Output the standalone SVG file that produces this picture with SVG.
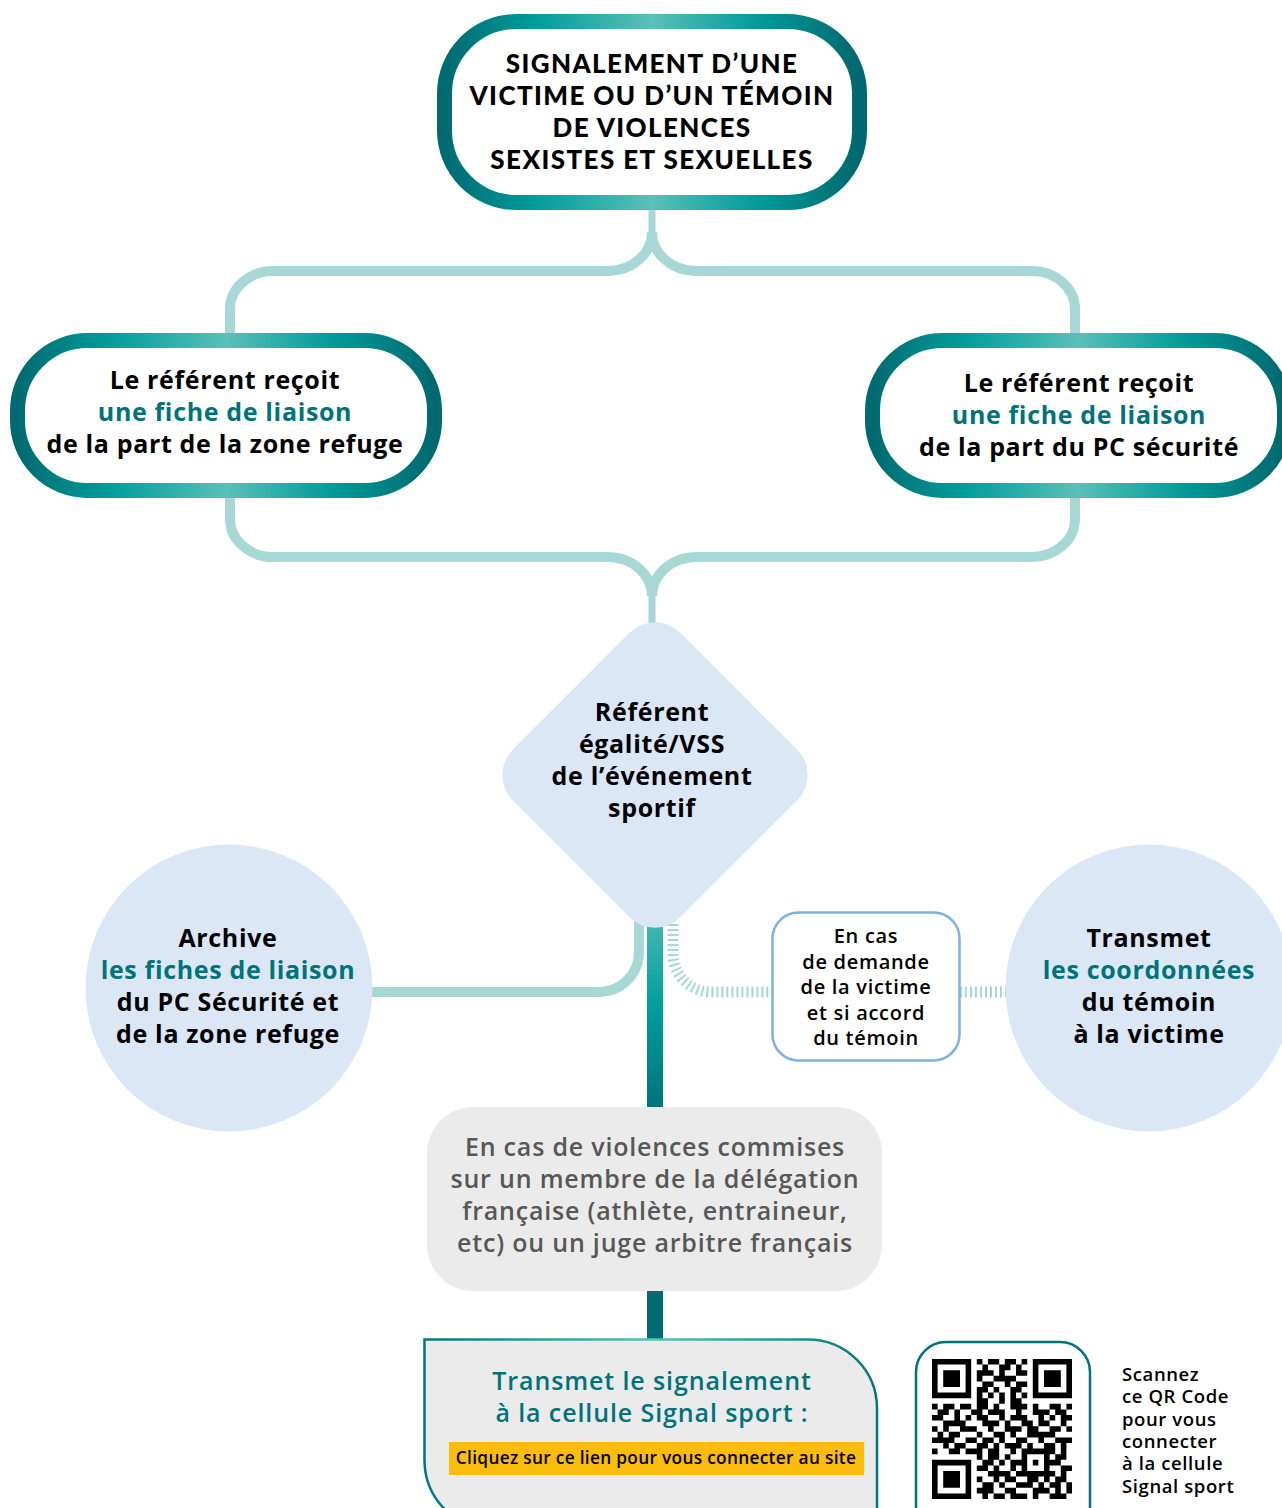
<svg xmlns="http://www.w3.org/2000/svg" width="1282" height="1508" viewBox="0 0 1282 1508">
<defs>
<linearGradient id="gBorder" x1="0" y1="0" x2="1" y2="0">
<stop offset="0" stop-color="#006A70"/>
<stop offset="0.22" stop-color="#009D9B"/>
<stop offset="0.5" stop-color="#5AC0B8"/>
<stop offset="0.76" stop-color="#009A99"/>
<stop offset="1" stop-color="#00686E"/>
</linearGradient>
<linearGradient id="gBar" x1="0" y1="0" x2="0" y2="1">
<stop offset="0" stop-color="#4CB8B2"/>
<stop offset="0.45" stop-color="#00A09D"/>
<stop offset="1" stop-color="#00727A"/>
</linearGradient>
<linearGradient id="gBottom" gradientUnits="userSpaceOnUse" x1="424" y1="0" x2="878" y2="0">
<stop offset="0" stop-color="#00777C"/>
<stop offset="0.5" stop-color="#5AC0B8"/>
<stop offset="1" stop-color="#00777C"/>
</linearGradient>
<style>
.lt{fill:none;stroke:#A7D8D5;stroke-width:10}
.hatch{fill:none;stroke:#A7D8D5;stroke-width:11;stroke-dasharray:2 3}
.box{fill:#fff;stroke:url(#gBorder);stroke-width:15}
.blue{fill:#DCE7F6}
.t{font-family:"Open Sans","Noto Sans",sans-serif;font-weight:700;font-size:25px;letter-spacing:0.65px;text-anchor:middle;fill:#000}
.title{font-family:Lato,"Open Sans",sans-serif;font-weight:900;font-size:26px;letter-spacing:1.4px}
.teal{fill:#00737A}
.med{font-weight:600}
.gray{fill:#575757;letter-spacing:0.8px}
.small{font-size:20px;letter-spacing:0.7px}
.qr{font-family:"Open Sans","Noto Sans",sans-serif;font-weight:600;font-size:18.5px;letter-spacing:0.6px;fill:#000}
</style>
</defs>
<rect width="1282" height="1508" fill="#fff"/>
<g id="connectors">
<path d="M652,205 V234" fill="none" stroke="#A7D8D5" stroke-width="7"/>
<path class="lt" d="M652,232 A44 39 0 0 1 608,271 H273 A43 38 0 0 0 230,309 V345"/>
<path class="lt" d="M652,232 A44 39 0 0 0 696,271 H1032 A43 38 0 0 1 1075,309 V345"/>
<path class="lt" d="M230,485 V519 A43 38 0 0 0 273,557 H608 A44 39 0 0 1 652,596"/>
<path class="lt" d="M1075,485 V519 A43 38 0 0 1 1032,557 H696 A44 39 0 0 0 652,596"/>
<path d="M652,594 V630" fill="none" stroke="#A7D8D5" stroke-width="7"/>
<path class="lt" d="M639,915 V952 A40 40 0 0 1 599,992 H365"/>
<path class="hatch" d="M673,924 V954 A38 38 0 0 0 711,992 H772"/>
<path class="hatch" d="M960,992 H1008"/>
<rect x="647" y="915" width="16" height="195" fill="url(#gBar)"/>
<rect x="647" y="1285" width="16" height="56" fill="#006B71"/>
</g>
<g id="n-signalement">
<rect class="box" x="444.5" y="21.5" width="415" height="181" rx="72"/>
<text class="t title" x="652" y="73">SIGNALEMENT D’UNE</text>
<text class="t title" x="652" y="105">VICTIME OU D’UN TÉMOIN</text>
<text class="t title" x="652" y="137">DE VIOLENCES</text>
<text class="t title" x="652" y="169">SEXISTES ET SEXUELLES</text>
</g>
<g id="n-zone-refuge">
<rect class="box" x="17.5" y="340.5" width="417" height="150" rx="70"/>
<text class="t" x="225" y="389">Le référent reçoit</text>
<text class="t teal" x="225" y="421">une fiche de liaison</text>
<text class="t" x="225" y="453">de la part de la zone refuge</text>
</g>
<g id="n-pc-securite">
<rect class="box" x="872.5" y="340.5" width="412" height="150" rx="70"/>
<text class="t" x="1079" y="392">Le référent reçoit</text>
<text class="t teal" x="1079" y="424">une fiche de liaison</text>
<text class="t" x="1079" y="456">de la part du PC sécurité</text>
</g>
<g id="n-referent">
<rect class="blue" x="536.5" y="656.5" width="237" height="237" rx="36" transform="rotate(45 655 775)"/>
<text class="t" x="652" y="721">Référent</text>
<text class="t" x="652" y="753">égalité/VSS</text>
<text class="t" x="652" y="785">de l’événement</text>
<text class="t" x="652" y="817">sportif</text>
</g>
<g id="n-archive">
<circle class="blue" cx="229" cy="988" r="143.5"/>
<text class="t" x="228" y="947">Archive</text>
<text class="t teal" x="228" y="979">les fiches de liaison</text>
<text class="t" x="228" y="1011">du PC Sécurité et</text>
<text class="t" x="228" y="1043">de la zone refuge</text>
</g>
<g id="n-condition">
<rect x="772.5" y="912.5" width="187" height="148" rx="26" fill="#fff" stroke="#7DB1E0" stroke-width="2.5"/>
<text class="t med small" x="866" y="943">En cas</text>
<text class="t med small" x="866" y="969">de demande</text>
<text class="t med small" x="866" y="994">de la victime</text>
<text class="t med small" x="866" y="1020">et si accord</text>
<text class="t med small" x="866" y="1045">du témoin</text>
</g>
<g id="n-transmet-coord">
<circle class="blue" cx="1149" cy="988" r="143.5"/>
<text class="t" x="1149" y="947">Transmet</text>
<text class="t teal" x="1149" y="979">les coordonnées</text>
<text class="t" x="1149" y="1011">du témoin</text>
<text class="t" x="1149" y="1043">à la victime</text>
</g>
<g id="n-delegation">
<rect x="427" y="1107" width="455" height="184" rx="46" fill="#EBEBEB"/>
<text class="t med gray" x="655" y="1156">En cas de violences commises</text>
<text class="t med gray" x="655" y="1188">sur un membre de la délégation</text>
<text class="t med gray" x="655" y="1220">française (athlète, entraineur,</text>
<text class="t med gray" x="655" y="1252">etc) ou un juge arbitre français</text>
</g>
<g id="n-signal-sport">
<path d="M424.5,1339.5 H808 A69 69 0 0 1 877,1408.5 V1530 H494 A70 70 0 0 1 424.5,1460 Z" fill="#EBEBEB" stroke="url(#gBottom)" stroke-width="2.5"/>
<text class="t med teal" style="font-size:25px;letter-spacing:0.9px" x="652" y="1390">Transmet le signalement</text>
<text class="t med teal" style="font-size:25px;letter-spacing:0.9px" x="652" y="1422">à la cellule Signal sport :</text>
<rect x="449" y="1442" width="415" height="33" fill="#FBBD0B"/>
<text class="t med" style="font-size:17.3px;letter-spacing:0.3px" x="656" y="1464">Cliquez sur ce lien pour vous connecter au site</text>
</g>
<g id="n-qr">
<rect x="916" y="1342" width="174" height="200" rx="30" fill="#fff" stroke="#00737A" stroke-width="2.5"/>
<path transform="translate(932,1359) scale(5.6)" fill="#000" d="M0 0h7v1h-7zM8 0h1v1h-1zM10 0h2v1h-2zM13 0h2v1h-2zM16 0h1v1h-1zM18 0h7v1h-7zM0 1h1v1h-1zM6 1h1v1h-1zM9 1h1v1h-1zM12 1h2v1h-2zM15 1h1v1h-1zM18 1h1v1h-1zM24 1h1v1h-1zM0 2h1v1h-1zM2 2h3v1h-3zM6 2h1v1h-1zM8 2h3v1h-3zM12 2h1v1h-1zM15 2h2v1h-2zM18 2h1v1h-1zM20 2h3v1h-3zM24 2h1v1h-1zM0 3h1v1h-1zM2 3h3v1h-3zM6 3h1v1h-1zM8 3h1v1h-1zM11 3h4v1h-4zM18 3h1v1h-1zM20 3h3v1h-3zM24 3h1v1h-1zM0 4h1v1h-1zM2 4h3v1h-3zM6 4h1v1h-1zM9 4h2v1h-2zM13 4h1v1h-1zM15 4h2v1h-2zM18 4h1v1h-1zM20 4h3v1h-3zM24 4h1v1h-1zM0 5h1v1h-1zM6 5h1v1h-1zM8 5h2v1h-2zM11 5h1v1h-1zM14 5h2v1h-2zM18 5h1v1h-1zM24 5h1v1h-1zM0 6h7v1h-7zM8 6h1v1h-1zM10 6h1v1h-1zM12 6h1v1h-1zM14 6h1v1h-1zM16 6h1v1h-1zM18 6h7v1h-7zM8 7h2v1h-2zM12 7h1v1h-1zM14 7h2v1h-2zM0 8h1v1h-1zM2 8h2v1h-2zM5 8h2v1h-2zM8 8h2v1h-2zM11 8h1v1h-1zM14 8h3v1h-3zM18 8h1v1h-1zM21 8h2v1h-2zM24 8h1v1h-1zM1 9h2v1h-2zM4 9h1v1h-1zM7 9h2v1h-2zM10 9h3v1h-3zM15 9h1v1h-1zM18 9h3v1h-3zM22 9h2v1h-2zM0 10h2v1h-2zM4 10h1v1h-1zM6 10h1v1h-1zM8 10h2v1h-2zM12 10h1v1h-1zM14 10h3v1h-3zM19 10h1v1h-1zM21 10h1v1h-1zM23 10h2v1h-2zM2 11h4v1h-4zM9 11h3v1h-3zM13 11h1v1h-1zM16 11h2v1h-2zM19 11h2v1h-2zM23 11h1v1h-1zM0 12h1v1h-1zM2 12h1v1h-1zM5 12h3v1h-3zM10 12h1v1h-1zM13 12h3v1h-3zM17 12h2v1h-2zM21 12h2v1h-2zM24 12h1v1h-1zM1 13h1v1h-1zM3 13h2v1h-2zM8 13h1v1h-1zM11 13h2v1h-2zM14 13h1v1h-1zM17 13h5v1h-5zM0 14h4v1h-4zM6 14h2v1h-2zM9 14h2v1h-2zM12 14h1v1h-1zM15 14h2v1h-2zM19 14h1v1h-1zM22 14h3v1h-3zM2 15h1v1h-1zM4 15h2v1h-2zM8 15h2v1h-2zM11 15h1v1h-1zM13 15h3v1h-3zM17 15h1v1h-1zM20 15h2v1h-2zM23 15h1v1h-1zM0 16h1v1h-1zM3 16h2v1h-2zM6 16h3v1h-3zM10 16h2v1h-2zM14 16h1v1h-1zM16 16h6v1h-6zM23 16h1v1h-1zM8 17h1v1h-1zM10 17h2v1h-2zM13 17h1v1h-1zM16 17h1v1h-1zM20 17h1v1h-1zM22 17h2v1h-2zM0 18h7v1h-7zM9 18h2v1h-2zM12 18h1v1h-1zM14 18h3v1h-3zM18 18h1v1h-1zM20 18h3v1h-3zM0 19h1v1h-1zM6 19h1v1h-1zM8 19h2v1h-2zM11 19h1v1h-1zM14 19h1v1h-1zM16 19h1v1h-1zM20 19h1v1h-1zM23 19h2v1h-2zM0 20h1v1h-1zM2 20h3v1h-3zM6 20h1v1h-1zM10 20h4v1h-4zM15 20h7v1h-7zM23 20h1v1h-1zM0 21h1v1h-1zM2 21h3v1h-3zM6 21h1v1h-1zM8 21h1v1h-1zM11 21h1v1h-1zM13 21h2v1h-2zM17 21h2v1h-2zM20 21h1v1h-1zM22 21h2v1h-2zM0 22h1v1h-1zM2 22h3v1h-3zM6 22h1v1h-1zM9 22h2v1h-2zM12 22h1v1h-1zM15 22h3v1h-3zM19 22h1v1h-1zM21 22h2v1h-2zM24 22h1v1h-1zM0 23h1v1h-1zM6 23h1v1h-1zM8 23h3v1h-3zM13 23h2v1h-2zM18 23h3v1h-3zM22 23h1v1h-1zM24 23h1v1h-1zM0 24h7v1h-7zM9 24h1v1h-1zM11 24h2v1h-2zM14 24h3v1h-3zM18 24h1v1h-1zM21 24h3v1h-3z"/>
<g class="qr">
<text x="1122" y="1381">Scannez</text>
<text x="1122" y="1403">ce QR Code</text>
<text x="1122" y="1426">pour vous</text>
<text x="1122" y="1448">connecter</text>
<text x="1122" y="1470">à la cellule</text>
<text x="1122" y="1493">Signal sport</text>
</g>
</g>
</svg>
